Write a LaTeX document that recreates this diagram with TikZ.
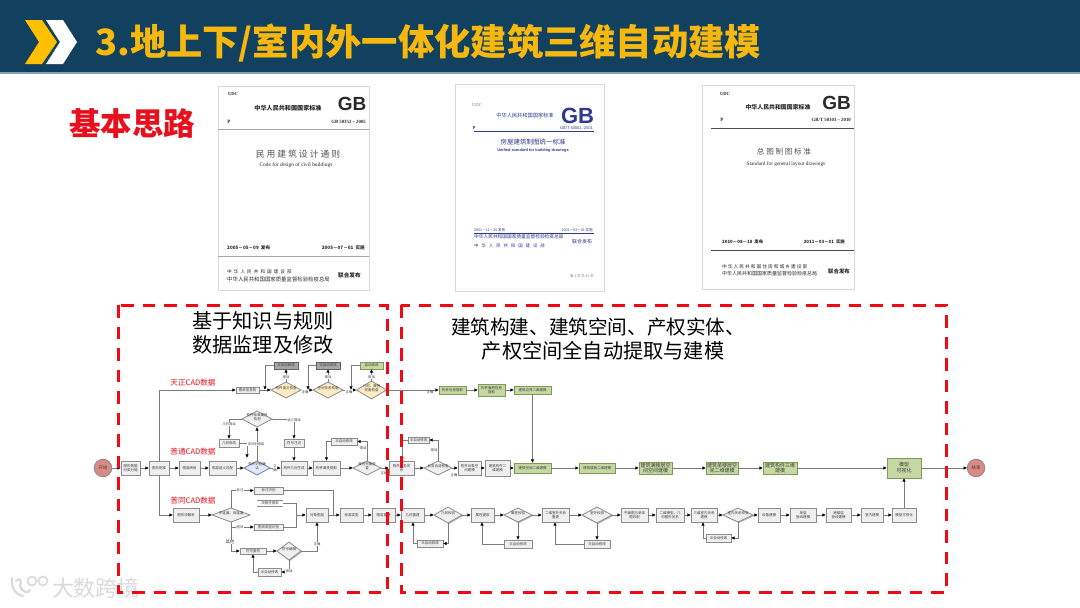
\documentclass[tikz,border=0pt]{standalone}
\usepackage{fontspec}
\setmainfont{Noto Sans CJK SC}
\newfontfamily\enserif{Liberation Serif}
\newfontfamily\ensans{Liberation Sans}
\usetikzlibrary{shapes.geometric,arrows.meta,shadows}
\definecolor{bandblue}{HTML}{12405F}
\definecolor{bandline}{HTML}{7FA6BC}
\definecolor{titleyel}{HTML}{F6B80F}
\definecolor{chevyel}{HTML}{FFC000}
\definecolor{redtxt}{HTML}{E8101C}
\definecolor{dashred}{HTML}{F00A14}
\definecolor{grnfill}{HTML}{C6D8A2}
\definecolor{grnline}{HTML}{7E9A58}
\definecolor{yelfill}{HTML}{FBEBC2}
\definecolor{blufill}{HTML}{E3E8F6}
\definecolor{bluline}{HTML}{6F80AE}
\definecolor{flowline}{HTML}{7C7C7C}
\definecolor{boxline}{HTML}{8C8C8C}
\definecolor{boxfill}{HTML}{EFEFEF}
\definecolor{txtgray}{HTML}{3C3C3C}
\definecolor{circfill}{HTML}{DA8A84}
\definecolor{doctxt}{HTML}{2A2A2A}
\definecolor{docblue}{HTML}{2E3A8C}
\definecolor{docedge}{HTML}{D8D8D8}
\definecolor{wm}{HTML}{DADADA}
\tikzset{
 flownode/.style={inner sep=0pt,outer sep=0pt,align=center,text=txtgray,font=\fontsize{3.5}{4.3}\selectfont},
 plainbox/.style={flownode,draw=boxline,line width=.8pt,fill=boxfill},
 shadowbox/.style={plainbox,drop shadow={shadow xshift=1pt,shadow yshift=-1pt,fill=gray!75,opacity=.8}},
 greenbox/.style={flownode,draw=grnline,line width=.8pt,fill=grnfill},
 darkbox/.style={flownode,draw=boxline!70!black,line width=.7pt,fill=gray!70},
 openbox/.style={flownode},
 diabase/.style={flownode,shape=diamond,aspect=2,line width=.8pt},
 graydia/.style={diabase,draw=boxline,fill=boxfill},
 graydias/.style={graydia,drop shadow={shadow xshift=1pt,shadow yshift=-1pt,fill=gray!75,opacity=.8}},
 yeldia/.style={diabase,draw=boxline,fill=yelfill},
 bludia/.style={diabase,draw=bluline,fill=blufill},
 endcirc/.style={flownode,shape=circle,draw=boxline,line width=.9pt,fill=circfill,minimum size=17.5pt,font=\fontsize{4.4}{5}\selectfont},
 conn/.style={draw=flowline,line width=.9pt,-{Latex[black,length=3.6pt,width=3.4pt]}},
 connplain/.style={draw=flowline,line width=.9pt},
 flowlabel/.style={inner sep=.3pt,fill=white,text=txtgray,align=center,font=\fontsize{3.3}{4}\selectfont},
 cadlabel/.style={text=redtxt,inner sep=0pt,font=\fontsize{7.6}{9}\selectfont},
 blacknote/.style={text=black,inner sep=0pt,align=center,font=\fontsize{19.6}{24}\selectfont},
 docpage/.style={draw=docedge,line width=.8pt,fill=white,inner sep=0pt,outer sep=0pt},
 doct/.style={text=doctxt,inner sep=0pt},
 redframe/.style={draw=dashred,line width=3pt,dash pattern=on 12.5pt off 9pt},
}
% name, x1, y1, x2, y2, style, text
\newcommand\bx[7]{%
 \pgfmathsetmacro\bxX{(#2+#4)/2}\pgfmathsetmacro\bxY{(#3+#5)/2}%
 \pgfmathsetmacro\bxW{#4-#2}\pgfmathsetmacro\bxH{#5-#3}%
 \node[#6,minimum width=\bxW pt,minimum height=\bxH pt] (#1) at (\bxX,\bxY) {#7};}
% zero-size text, so that a diamond keeps the size it is given
\newcommand\zs[1]{\makebox[0pt][c]{\smash{\begin{tabular}{@{}c@{}}#1\end{tabular}}}}
% name, cx, cy, half width, half height, style, text
\newcommand\dm[7]{%
 \pgfmathsetmacro\bxW{2*#4}\pgfmathsetmacro\bxH{2*#5}%
 \node[#6,minimum width=\bxW pt,minimum height=\bxH pt] (#1) at (#2,#3) {\zs{\setlength\tabcolsep{0pt}\renewcommand\arraystretch{.85}#7}};}
\begin{document}
\begin{tikzpicture}[x=1pt,y=-1pt]
\useasboundingbox (0,0) rectangle (1080,608);
\fill[white] (0,0) rectangle (1080,608);
% header band
\fill[bandblue] (0,0) rectangle (1080,72);
\fill[bandline] (0,72) rectangle (1080,74);
\fill[chevyel] (25,20) -- (42,20) -- (57,42) -- (42,64) -- (25,64) -- (39,42) -- cycle;
\fill[white] (46,20) -- (63,20) -- (77,42) -- (63,64) -- (46,64) -- (60,42) -- cycle;
\node[anchor=west,inner sep=0pt,text=titleyel,font=\bfseries\fontsize{36.3}{40}\selectfont] (title) at (95,43) {3.地上下/室内外一体化建筑三维自动建模};
\node[text=redtxt,inner sep=0pt,font=\bfseries\fontsize{31.5}{36}\selectfont] (idea) at (132,124) {基本思路};
% document 1
\fill[docpage,draw=docedge,line width=.8pt] (218,86) rectangle (369,290);
\draw[gray!70,line width=.6pt] (218,129) -- (369,129) (218,256) -- (369,256);
\node[doct,font=\enserif\bfseries\fontsize{4.6}{5}\selectfont] (a1) at (233,94) {UDC};
\node[doct,font=\bfseries\fontsize{6.1}{7}\selectfont] (a2) at (288,108) {中华人民共和国国家标准};
\node[doct,font=\ensans\bfseries\fontsize{19}{20}\selectfont,text=doctxt] (a3) at (352,104) {GB};
\node[doct,font=\enserif\bfseries\fontsize{5}{6}\selectfont] (a4) at (229,122) {P};
\node[doct,anchor=east,font=\enserif\bfseries\fontsize{4.8}{6}\selectfont] (a5) at (366,122) {GB 50352 – 2005};
\node[doct,font=\fontsize{8.8}{10}\selectfont,text=doctxt!80] (a6) at (298,154) {民\ 用\ 建\ 筑\ 设\ 计\ 通\ 则};
\node[doct,font=\enserif\fontsize{5.4}{6}\selectfont] (a7) at (296,165) {Code for design of civil buildings};
\node[doct,anchor=west,font=\bfseries\fontsize{4.6}{6}\selectfont] (a8) at (227,248) {2005－05－09\ \ 发布};
\node[doct,anchor=east,font=\bfseries\fontsize{4.6}{6}\selectfont] (a9) at (365,248) {2005－07－01\ \ 实施};
\node[doct,anchor=west,font=\fontsize{4.6}{6}\selectfont] (a10) at (227,272) {中\ \ 华\ \ 人\ \ 民\ \ 共\ \ 和\ \ 国\ \ 建\ \ 设\ \ 部};
\node[doct,anchor=west,font=\fontsize{5.4}{6}\selectfont] (a11) at (227,279) {中华人民共和国国家质量监督检验检疫总局};
\node[doct,anchor=west,font=\bfseries\fontsize{5.6}{6}\selectfont] (a12) at (338,275) {联合发布};
% document 2
\fill[docpage,draw=docedge,line width=.8pt] (455,84) rectangle (604,291);
\draw[docblue,line width=.6pt] (474,131) -- (594,131) (474,233) -- (594,233);
\node[doct,text=gray,font=\enserif\fontsize{4.6}{5}\selectfont] (b1) at (477,105) {UDC};
\node[doct,text=docblue,font=\fontsize{5.2}{6}\selectfont] (b2) at (525,116) {中华人民共和国国家标准};
\node[doct,text=docblue,font=\ensans\bfseries\fontsize{22}{24}\selectfont] (b3) at (577.5,116) {GB};
\node[doct,text=docblue,font=\enserif\bfseries\fontsize{4.6}{5}\selectfont] (b4) at (474,128) {P};
\node[doct,text=docblue,anchor=east,font=\ensans\fontsize{4}{5}\selectfont] (b5) at (593,128) {GB/T 50001–2001};
\node[doct,text=docblue,font=\fontsize{6.5}{7}\selectfont] (b6) at (533,142) {房屋建筑制图统一标准};
\node[doct,text=docblue,font=\ensans\bfseries\fontsize{3.9}{5}\selectfont] (b7) at (533,150) {Unified standard for building drawings};
\node[doct,text=docblue,anchor=west,font=\fontsize{3.6}{5}\selectfont] (b8) at (474,230) {2001－11－20 发布};
\node[doct,text=docblue,anchor=east,font=\fontsize{3.6}{5}\selectfont] (b9) at (593,230) {2002－03－01 实施};
\node[doct,text=docblue,anchor=west,font=\fontsize{4.7}{6}\selectfont] (b10) at (474,237) {中华人民共和国国家质量监督检验检疫总局};
\node[doct,text=docblue,anchor=west,font=\fontsize{4.4}{6}\selectfont] (b11) at (474,246) {中\ \ \ 华\ \ \ 人\ \ \ 民\ \ \ 共\ \ \ 和\ \ \ 国\ \ \ 建\ \ \ 设\ \ \ 部};
\node[doct,text=docblue,anchor=west,font=\fontsize{5}{6}\selectfont] (b12) at (572,242) {联合发布};
\node[doct,text=gray,font=\fontsize{3.5}{4}\selectfont] (b13) at (582,276) {第 1 页 共 41 页};
% document 3
\fill[docpage,draw=docedge,line width=.8pt] (702,85) rectangle (854,289);
\draw[gray!60!black,line width=.7pt] (711,128) -- (854,128) (711,250) -- (854,250);
\node[doct,font=\enserif\bfseries\fontsize{4.6}{5}\selectfont] (c1) at (725,94) {UDC};
\node[doct,font=\bfseries\fontsize{5.9}{7}\selectfont] (c2) at (778,107) {中华人民共和国国家标准};
\node[doct,font=\ensans\bfseries\fontsize{19}{20}\selectfont] (c3) at (836.5,103) {GB};
\node[doct,font=\enserif\bfseries\fontsize{5}{6}\selectfont] (c4) at (722,120) {P};
\node[doct,anchor=east,font=\enserif\bfseries\fontsize{4.8}{6}\selectfont] (c5) at (851,120) {GB/T 50103 – 2010};
\node[doct,text=doctxt!80,font=\fontsize{7.6}{9}\selectfont] (c6) at (784,152) {总\ 图\ 制\ 图\ 标\ 准};
\node[doct,font=\enserif\fontsize{5.3}{6}\selectfont] (c7) at (786,164) {Standard for general layout drawings};
\node[doct,anchor=west,font=\bfseries\fontsize{4.4}{6}\selectfont] (c8) at (722,242) {2010－08－18\ \ 发布};
\node[doct,anchor=east,font=\bfseries\fontsize{4.4}{6}\selectfont] (c9) at (845,242) {2011－03－01\ \ 实施};
\node[doct,anchor=west,font=\fontsize{4.7}{6}\selectfont] (c10) at (722,267) {中\ 华\ 人\ 民\ 共\ 和\ 国\ 住\ 房\ 和\ 城\ 乡\ 建\ 设\ 部};
\node[doct,anchor=west,font=\fontsize{5}{6}\selectfont] (c11) at (722,274) {中华人民共和国国家质量监督检验检疫总局};
\node[doct,anchor=west,font=\bfseries\fontsize{5.4}{6}\selectfont] (c12) at (828,271) {联合发布};
% frame captions
\node[blacknote,font=\fontsize{20.2}{24.5}\selectfont] (capl) at (263,333) {基于知识与规则\\数据监理及修改};
\node[blacknote] (capr1) at (598,327) {建筑构建、建筑空间、产权实体、};
\node[blacknote,font=\fontsize{20.2}{24}\selectfont] (capr2) at (603,351) {产权空间全自动提取与建模};
% watermark
\draw[wm,line width=2.2pt,line cap=round] (12,578) .. controls (11,586) and (14,594) .. (23,596);
\draw[wm,line width=2.2pt,line cap=round] (16,581) .. controls (20,577) and (22,580) .. (20,586) .. controls (22,592) and (28,594) .. (30,590);
\draw[wm,line width=1.6pt] (32,581) circle[radius=4.5pt] (43,581) circle[radius=4.5pt];
\node[inner sep=0pt,text=wm,font=\fontsize{22}{24}\selectfont] (wmark) at (96,588) {大数跨境};
% flow: start and main row
\node[endcirc] (start) at (103,468) {开始};
\bx{B1}{121}{461}{140}{475}{shadowbox}{图形数据\\分类分幅}
\bx{B2}{149}{461}{169}{475}{shadowbox}{图形配准}
\bx{B3}{179}{461}{200}{475}{shadowbox}{图层映射}
\bx{B4}{209}{461}{236}{475}{shadowbox}{图层语义匹配}
\dm{D1}{257}{468}{13}{7}{bludia}{构件识别确\\认}
\bx{B5}{281}{461}{307}{475}{shadowbox}{构件几何生成}
\bx{B6}{313}{461}{340}{475}{shadowbox}{构件属性提取}
\dm{D2}{367}{468}{14}{7}{graydia}{属性完备检\\查}
\bx{B7}{331}{438}{357}{445}{shadowbox}{半自动修改}
\bx{B8}{389}{461}{414}{475}{shadowbox}{构件业务关\\系}
\dm{D3}{438}{468}{14}{7}{graydia}{业务合适检查}
\bx{B9}{408}{437}{429}{443}{shadowbox}{半自动修改}
\bx{B10}{458}{461}{481}{475}{shadowbox}{构件对象空\\间建模}
\bx{B11}{485}{460}{510}{476}{shadowbox}{建筑构件二\\维建模}
\bx{G4}{514}{463}{551}{473}{greenbox}{建筑空间二维建模}
\bx{G5}{579}{463}{615}{473}{greenbox}{建筑楼板二维建模}
\bx{G6}{639}{462}{672}{474}{greenbox,font=\fontsize{5}{5.6}\selectfont}{建筑满楼层空\\间空间建模}
\bx{G7}{706}{462}{738}{474}{greenbox,font=\fontsize{5}{5.6}\selectfont}{建筑单楼层空\\间二维建模}
\bx{G8}{763}{462}{797}{474}{greenbox,font=\fontsize{5}{5.6}\selectfont}{建筑构件三维\\建模}
\bx{G9}{887}{458}{921}{478}{greenbox,font=\fontsize{5}{6}\selectfont}{模型\\可视化}
\node[endcirc] (finish) at (976,468) {结束};
% top row
\bx{T1}{236}{387}{259}{393}{shadowbox}{图纸信息检}
\dm{TD1}{286}{390}{15}{8}{yeldia}{构件语义检查}
\bx{T2}{274}{362}{298}{369}{darkbox}{半自动修改}
\dm{TD2}{328}{390}{15}{8}{yeldia}{空间关系检查}
\bx{T3}{316}{362}{340}{369}{darkbox}{半自动修改}
\dm{TD3}{371.5}{390}{15}{9}{yeldia}{几何、属性\\完备检查}
\bx{T4}{360}{362}{383}{369}{greenbox}{自动修改}
\bx{G1}{439}{386}{466}{394}{greenbox}{构件信息提取}
\bx{G2}{478}{384}{505}{396}{greenbox}{构件面积信息\\提取}
\bx{G3}{514}{386}{551}{394}{greenbox}{建筑边界二维建模}
% upper left branch
\dm{UD}{257}{419}{15}{8}{graydia}{构件标准属性\\检测}
\bx{U1}{219}{439}{239}{447}{shadowbox}{几何修改}
\bx{U2}{284}{439}{304}{447}{shadowbox}{符号注记}
% second row, left part
\bx{M1}{173}{508}{199}{522}{shadowbox}{图形块解析}
\dm{MD1}{231}{515}{19}{7}{graydia}{不连通、块连通}
\bx{M2}{254}{487}{283}{494}{shadowbox}{标注识别}
\bx{M3}{257}{500}{283}{506}{openbox}{块数性提取}
\bx{M4}{254}{524}{283}{530}{shadowbox}{图块类型识别}
\bx{M5}{240}{548}{266}{554}{shadowbox}{符号重构}
\dm{MD2}{289}{551}{12}{9}{graydias}{符号编辑}
\bx{M6}{258}{568}{281}{576}{shadowbox}{半自动修改}
\bx{M7}{306}{508}{328}{522}{shadowbox}{对象图层}
\bx{M8}{340}{508}{363}{522}{shadowbox}{标准类型}
\bx{M9}{372}{508}{395}{522}{shadowbox}{图层重建}
% second row, right part
\bx{N1}{401}{508}{424}{522}{shadowbox}{几何重建}
\dm{ND1}{448}{515}{14}{8}{graydias}{几何校验}
\bx{N2}{417}{540}{443}{547}{shadowbox}{半自动修改}
\bx{N3}{471}{508}{494}{522}{shadowbox}{属性提取}
\dm{ND2}{518}{515}{14}{7}{graydias}{属性校验}
\bx{N4}{504}{540}{532}{548}{shadowbox}{半自动修改}
\bx{N5}{542}{508}{569}{522}{shadowbox}{二维室外关系\\重建}
\dm{ND3}{597}{515}{15}{8}{graydias}{室外校验}
\bx{N6}{584}{540}{610}{548}{shadowbox}{半自动修改}
\bx{N7}{621}{508}{648}{522}{shadowbox}{平面图与单体\\图匹配}
\bx{N8}{656}{508}{684}{522}{shadowbox}{二维模型、几\\何图形关系}
\bx{N9}{691}{508}{717}{522}{shadowbox}{三维室内关系\\建模}
\dm{ND4}{738}{515}{15}{7}{graydias}{室内关系校验}
\bx{N10}{706}{534}{731}{542}{shadowbox}{半自动修改}
\bx{N11}{758}{508}{780}{522}{shadowbox}{设备建模}
\bx{N12}{790}{508}{816}{522}{shadowbox}{单层\\管线建模}
\bx{N13}{826}{508}{851}{522}{shadowbox}{跨楼层\\管线建模}
\bx{N14}{861}{508}{883}{522}{shadowbox}{室内建模}
\bx{N15}{892}{508}{916}{522}{shadowbox}{模型可视化}
\draw[boxline,line width=.6pt] (M3.north west) -- (M3.north east) (M3.south west) -- (M3.south east);
% free junction points
\coordinate (jt1) at (265,390);
\coordinate (jt2) at (308,390);
\coordinate (jt3) at (351,390);
\coordinate (ju) at (247,458);
\coordinate (jm) at (296,515);
\coordinate (jn) at (333,515);
% connectors: main row
\foreach \a/\b in {start/B1,B1/B2,B2/B3,B3/B4,B4/D1,D1/B5,B5/B6,B6/D2,D2/B8,B8/D3,D3/B10,B10/B11,B11/G4,G4/G5,G5/G6,G6/G7,G7/G8,G8/G9,G9/finish}
  \draw[conn] (\a) -- (\b);
\draw[conn] (B2.north) |- (T1.west);
\draw[conn] (B2.south) |- (M1.west);
\draw[conn] (D2.north) |- (B7.east);
\draw[conn] (B7.west) -| (B6.north);
\draw[conn] (D3.north) |- (B9.east);
\draw[conn] (B9.west) -| (B8.north -| 402,0);
% top row
\foreach \a/\b in {T1/TD1,TD1/TD2,TD2/TD3,TD3/G1,G1/G2,G2/G3}
  \draw[conn] (\a) -- (\b);
\draw[conn] (TD1) -- (T2);
\draw[conn] (TD2.north -| T3) -- (T3);
\draw[conn] (TD3) -- (T4);
\draw[conn] (T2.west) -| (jt1);
\draw[conn] (T3.west) -| (jt2);
\draw[conn] (T4.west) -| (jt3);
\draw[conn] (G3) -- (G4);
% upper left branch
\draw[conn] (D1) -- (UD);
\draw[conn] (UD.west) -| (U1.north);
\draw[conn] (UD.east) -| (U2.north);
\draw[conn] (U2) -- (B5);
\draw[conn] (U1.east) -| (ju);
% second row left
\draw[conn] (M1) -- (MD1);
\draw[conn] (MD1.north) |- (M2.west);
\draw[conn] (MD1.south) |- (M4.west);
\draw[conn] (MD1.south) |- (M5.west);
\draw[conn] (M5) -- (MD2);
\draw[conn] (MD2.south) |- (M6.east);
\draw[conn] (M6.west) -| (M5.south -| 253,0);
\draw[conn] (MD2.east) -| (M7.south);
\draw[connplain] (M3.east) -| (jm);
\draw[connplain] (M4.east) -| (jm);
\draw[conn] (jm) -- (M7);
\draw[connplain] (M2.east) -| (jn);
\draw[conn] (M7) -- (M8);
\foreach \a/\b in {M8/M9,M9/N1,N1/ND1,ND1/N3,N3/ND2,ND2/N5,N5/ND3,ND3/N7,N7/N8,N8/N9,N9/ND4,ND4/N11,N11/N12,N12/N13,N13/N14,N14/N15}
  \draw[conn] (\a) -- (\b);
\draw[conn] (N15) -- (G9);
% repair loops
\draw[conn] (ND1.south) |- (N2.east);
\draw[conn] (N2.west) -| (N1.south -| 413,0);
\draw[conn] (ND2) -- (N4);
\draw[conn] (N4.west) -| (N3.south -| 482,0);
\draw[conn] (ND3) -- (N6);
\draw[conn] (N6.west) -| (N5.south -| 555,0);
\draw[conn] (ND4.south) |- (N10.east);
\draw[conn] (N10.west) -| (N9.south -| 703,0);
% connector labels
\node[flowlabel] (l1) at (286,377) {错误};
\node[flowlabel] (l2) at (328,377) {错误};
\node[flowlabel] (l3) at (371.5,377) {错误};
\node[flowlabel] (l4) at (305,392) {正确};
\node[flowlabel] (l5) at (349,392) {正确};
\node[flowlabel,fill=none] (l6) at (430,392.5) {正确};
\node[flowlabel] (l7) at (229,424) {几何错误};
\node[flowlabel] (l8) at (294,420) {语义错误};
\node[flowlabel] (l9) at (256,444) {未识别图层};
\node[flowlabel] (l10) at (275,468) {正\\确};
\node[flowlabel] (l11) at (363,448) {错误};
\node[flowlabel,fill=none] (l12) at (384,473.5) {正确};
\node[flowlabel] (l13) at (434,450) {错误};
\node[flowlabel,fill=none] (l14) at (454,475.5) {正确};
\node[flowlabel] (l15) at (240,490) {标注};
\node[flowlabel] (l16) at (240,527) {图块};
\node[flowlabel,font=\fontsize{4.4}{5}\selectfont] (l17) at (230,542) {其他};
\node[flowlabel] (l18) at (289,571) {错误};
\node[flowlabel] (l19) at (317,544) {正确};
% CAD source labels
\node[cadlabel] (cad1) at (193,383) {天正CAD数据};
\node[cadlabel] (cad2) at (193,452) {普通CAD数据};
\node[cadlabel] (cad3) at (193,501) {普同CAD数据};
% red frames
\draw[redframe] (118,305) rectangle (387,592);
\draw[redframe] (401,305) rectangle (946,592);
\end{tikzpicture}
\end{document}
